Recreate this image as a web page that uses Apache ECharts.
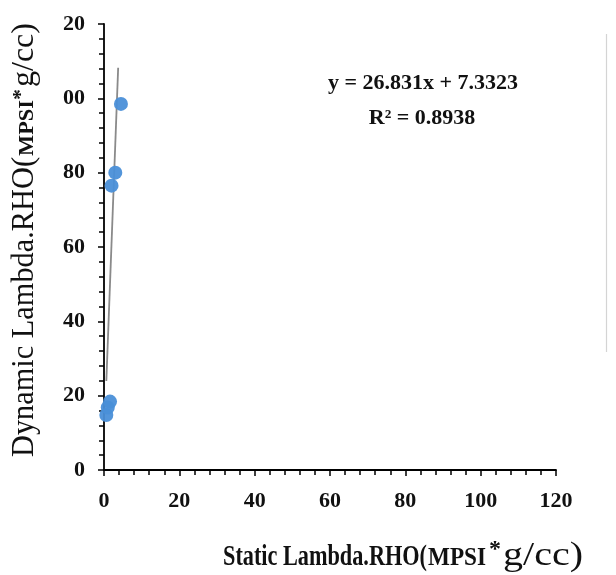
<!DOCTYPE html>
<html>
<head>
<meta charset="utf-8">
<script src="https://cdn.jsdelivr.net/npm/echarts@6/dist/echarts.min.js"></script>
<style>
  html, body { margin: 0; padding: 0; background: #fff; }
  #chart { width: 616px; height: 575px; }
</style>
</head>
<body>
<div id="chart"></div>
<script>
// Static vs dynamic Lambda*Rho measurements (MPSI*g/cc)
const staticLR  = [0.62, 1.0, 1.6, 2.0, 3.0, 4.5];
const dynamicLR = [14.8, 16.8, 18.4, 76.5, 80.0, 98.5];

// Linear fit shown on the chart
const trendSlope = 26.831;
const trendIntercept = 7.3323;
const trendR2 = 0.8938;
const trendRange = [0.62, 3.76];

// Axis tick labels
const xTickLabels = ['0', '20', '40', '60', '80', '100', '120'];
const yTickLabels = ['0', '20', '40', '60', '80', '00', '20'];

const SERIF = "'Liberation Serif', 'Times New Roman', serif";

const measureCtx = document.createElement('canvas').getContext('2d');
function fitScale(text, font, targetWidth) {
  measureCtx.font = font;
  return targetWidth / measureCtx.measureText(text).width;
}
// text piece whose left end sits at (x, baseline), squeezed/stretched to a width
function piece(text, weight, size, x, baseline, width) {
  const font = weight + ' ' + size + 'px ' + SERIF;
  return {
    type: 'text',
    x: x,
    y: baseline - 0.34 * size,
    scaleX: width ? fitScale(text, font, width) : 1,
    style: {
      text: text,
      font: font,
      fill: '#111',
      textAlign: 'left',
      textVerticalAlign: 'middle'
    }
  };
}

const points = staticLR.map((x, i) => [x, dynamicLR[i]]);
const trendLine = trendRange.map(x => [x, trendSlope * x + trendIntercept]);

const axisCommon = {
  type: 'value',
  min: 0,
  max: 120,
  interval: 20,
  splitLine: { show: false },
  axisLine: { show: true, onZero: false, lineStyle: { color: '#000', width: 1.8 } },
  axisTick: { show: true, length: 6, lineStyle: { color: '#000', width: 1.5 } },
  minorTick: { show: true, splitNumber: 5, length: 5, lineStyle: { color: '#000', width: 1.5 } },
  minorSplitLine: { show: false }
};

const chart = echarts.init(document.getElementById('chart'));
chart.setOption({
  backgroundColor: '#fff',
  animation: false,
  grid: { left: 104, right: 60, top: 24, bottom: 105, containLabel: false },
  xAxis: Object.assign({}, axisCommon, {
    axisLabel: {
      margin: 20,
      color: '#111',
      fontFamily: SERIF,
      fontWeight: 'bold',
      fontSize: 22,
      formatter: v => xTickLabels[Math.round(v / 20)]
    }
  }),
  yAxis: Object.assign({}, axisCommon, {
    axisLabel: {
      margin: 19,
      color: '#111',
      fontFamily: SERIF,
      fontWeight: 'bold',
      fontSize: 22,
      formatter: v => yTickLabels[Math.round(v / 20)]
    }
  }),
  series: [
    {
      type: 'line',
      data: trendLine,
      symbol: 'none',
      z: 2,
      lineStyle: { color: '#8a8a8a', width: 1.8 }
    },
    {
      type: 'scatter',
      data: points,
      symbol: 'circle',
      symbolSize: 14,
      z: 3,
      itemStyle: { color: '#4a8fd8', opacity: 0.95 }
    }
  ],
  graphic: [
    // fit equation
    {
      type: 'text', x: 423, y: 83,
      style: {
        text: 'y = ' + trendSlope + 'x + ' + trendIntercept,
        font: 'bold 22px ' + SERIF, fill: '#111',
        textAlign: 'center', textVerticalAlign: 'middle'
      }
    },
    {
      type: 'text', x: 422, y: 118,
      style: {
        text: 'R\u00b2 = ' + trendR2,
        font: 'bold 22px ' + SERIF, fill: '#111',
        textAlign: 'center', textVerticalAlign: 'middle'
      }
    },
    // x axis title
    piece('Static Lambda.RHO(', 'bold', 30, 223, 567.5, 204),
    piece('MPSI', 'bold', 25, 428, 567.5, 58),
    piece('*', 'bold', 24, 489, 558, 0),
    piece('g/cc)', 'normal', 33, 503, 567.5, 80),
    // y axis title, reading bottom to top
    {
      type: 'group', x: 35, y: 457, rotation: Math.PI / 2,
      children: [
        piece('Dynamic Lambda.RHO(', 'normal', 31, 0, 0, 300),
        piece('MPSI', 'bold', 22, 301, 0, 56),
        piece('*', 'bold', 22, 357, -6, 0),
        piece('g/cc)', 'normal', 31, 370, 0, 64)
      ]
    },
    // edge of the neighbouring panel
    {
      type: 'line', silent: true,
      shape: { x1: 606.5, y1: 34, x2: 606.5, y2: 352 },
      style: { stroke: '#d4d4d4', lineWidth: 1.2 }
    }
  ]
});
</script>
</body>
</html>
